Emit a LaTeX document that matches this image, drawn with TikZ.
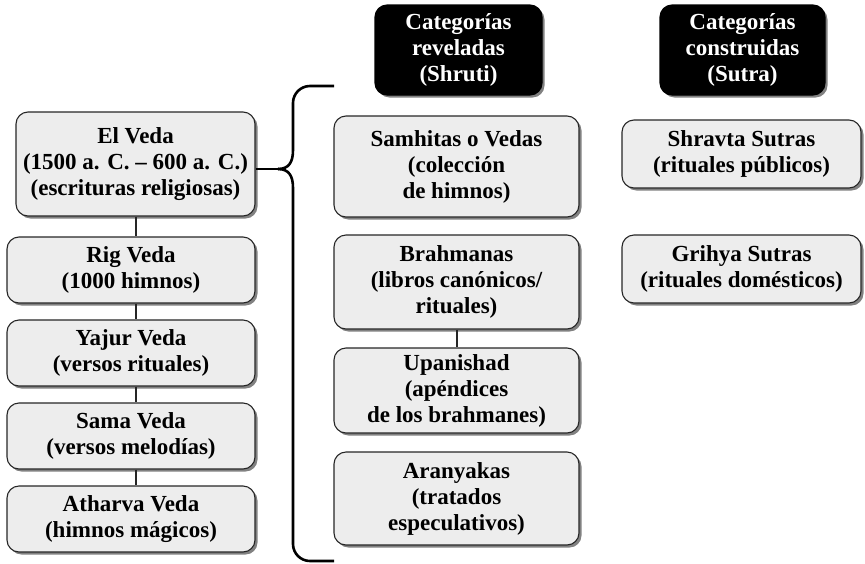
\documentclass[tikz,border=0pt]{standalone}
\usepackage{fontspec}
\setmainfont{Liberation Serif}
\usetikzlibrary{shadows}
\begin{document}
\begin{tikzpicture}[x=1pt,y=-1pt,
  box/.style={draw=black!85, line width=1.1pt, fill=black!7, rounded corners=12pt,
    drop shadow={shadow xshift=2.5pt, shadow yshift=-2.5pt, fill=black!55, opacity=0.9},
    align=center, inner sep=0pt, text=black,
    font=\fontsize{23}{26}\selectfont\bfseries},
  head/.style={box, fill=black, text=white, draw=black},
  link/.style={draw=black!85, line width=2pt},
  bracket/.style={draw=black, line width=2.6pt}]
\useasboundingbox (0,0) rectangle (865,563);
% left column
\node[box, minimum width=239pt, minimum height=104pt] (veda) at (135.5,164) {El Veda\\(1500 a. C. -- 600 a. C.)\\(escrituras religiosas)};
\node[box, minimum width=248pt, minimum height=66pt] (rig) at (131,270) {Rig Veda\\(1000 himnos)};
\node[box, minimum width=248pt, minimum height=66pt] (yajur) at (131,353) {Yajur Veda\\(versos rituales)};
\node[box, minimum width=248pt, minimum height=66pt] (sama) at (131,436) {Sama Veda\\(versos melodías)};
\node[box, minimum width=248pt, minimum height=66pt] (atharva) at (131,519) {Atharva Veda\\(himnos mágicos)};
% middle column
\node[head, minimum width=167pt, minimum height=90pt] (h1) at (458.5,50) {Categorías\\reveladas\\(Shruti)};
\node[box, minimum width=245pt, minimum height=101pt] (samhitas) at (456.5,166.5) {Samhitas o Vedas\\(colección\\de himnos)};
\node[box, minimum width=245pt, minimum height=94pt] (brahmanas) at (456.5,282) {Brahmanas\\(libros canónicos/\\rituales)};
\node[box, minimum width=245pt, minimum height=85pt] (upanishad) at (456.5,390.5) {Upanishad\\(apéndices\\de los brahmanes)};
\node[box, minimum width=245pt, minimum height=93pt] (aranyakas) at (456.5,498.5) {Aranyakas\\(tratados\\especulativos)};
% right column
\node[head, minimum width=165pt, minimum height=90pt] (h2) at (742.5,50) {Categorías\\construidas\\(Sutra)};
\node[box, minimum width=239pt, minimum height=68pt] (shravta) at (741.5,154) {Shravta Sutras\\(rituales públicos)};
\node[box, minimum width=239pt, minimum height=68pt] (grihya) at (741.5,269) {Grihya Sutras\\(rituales domésticos)};
% connectors
\draw[link] (veda.south) -- (veda.south |- rig.north);
\draw[link] (veda.south |- rig.south) -- (veda.south |- yajur.north);
\draw[link] (veda.south |- yajur.south) -- (veda.south |- sama.north);
\draw[link] (veda.south |- sama.south) -- (veda.south |- atharva.north);
\draw[link] (brahmanas.south) -- (upanishad.north);
% bracket
\coordinate (cusp) at (278,169);
\coordinate (btop) at (334,86);
\coordinate (bbot) at (334,561);
\draw[bracket] (veda.east |- cusp) -- (cusp);
\draw[bracket] (cusp) .. controls (289,169) and (293,162) .. (293,150)
  [rounded corners=17pt] -- (293,86) -- (btop);
\draw[bracket] (cusp) .. controls (289,169) and (293,176) .. (293,188)
  [rounded corners=17pt] -- (293,561) -- (bbot);
\end{tikzpicture}
\end{document}
